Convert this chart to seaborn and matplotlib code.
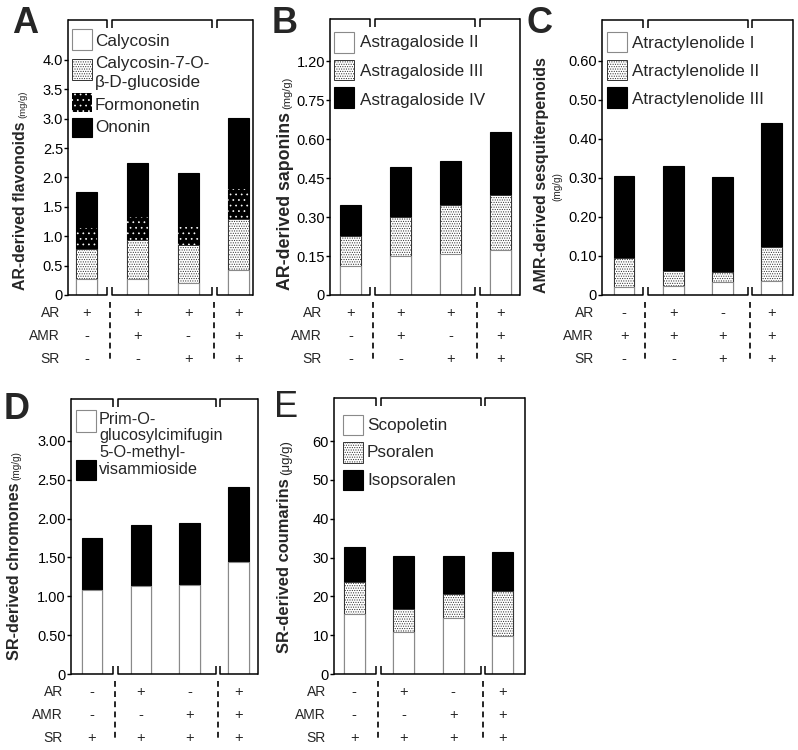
import matplotlib
matplotlib.use("Agg")
import matplotlib.pyplot as plt
import seaborn as sns
import pandas as pd
import numpy as np
from matplotlib.patches import Rectangle
from matplotlib.transforms import blended_transform_factory

# ---------------- data ----------------
conditions = ["c1", "c2", "c3", "c4"]
row_names = ["AR", "AMR", "SR"]

# Panel A : AR-derived flavonoids (mg/g)
a_names = ["Calycosin", "Calycosin-7-O-\nβ-D-glucoside", "Formononetin", "Ononin"]
a_calycosin = [0.27, 0.27, 0.21, 0.43]
a_c7g = [0.52, 0.665, 0.64, 0.86]
a_formononetin = [0.345, 0.395, 0.305, 0.52]
a_ononin = [0.625, 0.92, 0.915, 1.20]
a_ticks = [0, 0.5, 1.0, 1.5, 2.0, 2.5, 3.0, 3.5, 4.0]
a_ticklabels = ["0", "0.5", "1.0", "1.5", "2.0", "2.5", "3.0", "3.5", "4.0"]
a_signs = [["+", "+", "+", "+"], ["-", "+", "-", "+"], ["-", "-", "+", "+"]]

# Panel B : AR-derived saponins (mg/g)
b_names = ["Astragaloside II", "Astragaloside III", "Astragaloside IV"]
b_ast2 = [0.110, 0.150, 0.157, 0.174]
b_ast3 = [0.117, 0.150, 0.191, 0.212]
b_ast4 = [0.120, 0.192, 0.166, 0.240]
b_ticks = [0, 0.15, 0.30, 0.45, 0.60, 0.75, 0.90]
b_ticklabels = ["0", "0.15", "0.30", "0.45", "0.60", "0.75", "1.20"]
b_signs = [["+", "+", "+", "+"], ["-", "+", "-", "+"], ["-", "-", "+", "+"]]

# Panel C : AMR-derived sesquiterpenoids (mg/g)
c_names = ["Atractylenolide I", "Atractylenolide II", "Atractylenolide III"]
c_atr1 = [0.020, 0.023, 0.033, 0.036]
c_atr2 = [0.074, 0.039, 0.027, 0.088]
c_atr3 = [0.212, 0.269, 0.243, 0.316]
c_ticks = [0, 0.10, 0.20, 0.30, 0.40, 0.50, 0.60]
c_ticklabels = ["0", "0.10", "0.20", "0.30", "0.40", "0.50", "0.60"]
c_signs = [["-", "+", "-", "+"], ["+", "+", "+", "+"], ["-", "-", "+", "+"]]

# Panel D : SR-derived chromones (mg/g)
d_names = ["Prim-O-\nglucosylcimifugin", "5-O-methyl-\nvisammioside"]
d_prim = [1.08, 1.13, 1.14, 1.44]
d_methyl = [0.67, 0.79, 0.81, 0.97]
d_ticks = [0, 0.5, 1.0, 1.5, 2.0, 2.5, 3.0]
d_ticklabels = ["0", "0.50", "1.00", "1.50", "2.00", "2.50", "3.00"]
d_signs = [["-", "+", "-", "+"], ["-", "-", "+", "+"], ["+", "+", "+", "+"]]

# Panel E : SR-derived coumarins (ug/g)
e_names = ["Scopoletin", "Psoralen", "Isopsoralen"]
e_scopoletin = [15.4, 10.9, 14.4, 9.8]
e_psoralen = [8.2, 5.8, 6.1, 11.6]
e_isopsoralen = [9.0, 13.7, 9.9, 10.0]
e_ticks = [0, 10, 20, 30, 40, 50, 60]
e_ticklabels = ["0", "10", "20", "30", "40", "50", "60"]
e_signs = [["-", "+", "-", "+"], ["-", "-", "+", "+"], ["+", "+", "+", "+"]]

# ---------------- style ----------------
sns.set_style("ticks")
plt.rcParams["font.family"] = ["Liberation Sans", "DejaVu Sans"]
plt.rcParams["hatch.linewidth"] = 0.5
plt.rcParams["axes.linewidth"] = 1.1
plt.rcParams["axes.edgecolor"] = "black"

W, H = 798, 750
fig = plt.figure(figsize=(W / 100, H / 100), dpi=100)
fig.patch.set_facecolor("white")

STYLE = {
    "open": dict(fc="white", ec="#8a8a8a", lw=0.8, hatch=None),
    "fine": dict(fc="white", ec="#333333", lw=0.7, hatch="......."),
    "coarse": dict(fc="black", ec="white", lw=0.0, hatch="..."),
    "solid": dict(fc="black", ec="black", lw=0.8, hatch=None),
}


def fx(px):
    return px / W


def fy(py):
    return 1 - py / H


def draw_panel(cfg, layers, names, styles, ticks, ticklabels, signs):
    L, R, T, B = cfg["box"]
    axw, axh = R - L, B - T
    ax = fig.add_axes([fx(L), fy(B), axw / W, axh / H])
    cum = np.cumsum(np.array(layers, dtype=float), axis=0)
    for k in range(len(layers) - 1, -1, -1):
        st = STYLE[styles[k]]
        df = pd.DataFrame({"cond": conditions, "value": cum[k]})
        sns.barplot(data=df, x="cond", y="value", order=conditions, ax=ax,
                    width=cfg["bw"], color=st["fc"], saturation=1,
                    edgecolor=st["ec"], linewidth=st["lw"], hatch=st["hatch"],
                    errorbar=None)
    x0, x1 = cfg["xlim"]
    ax.set_xlim(x0, x1)
    ax.set_ylim(0, cfg["ytop"])
    ax.set_yticks(ticks)
    ax.set_yticklabels(ticklabels)
    ax.set_xticks([])
    ax.set_xlabel("")
    ax.set_ylabel("")
    ax.tick_params(axis="y", length=2.6, width=1.0, pad=1.0, labelsize=10.5,
                   colors="black", right=False)
    ax.spines["top"].set_visible(False)
    ax.spines["bottom"].set_visible(False)
    ax.spines["left"].set_linewidth(1.1)
    ax.spines["right"].set_linewidth(1.1)

    # broken frame (top and bottom)
    b1, b2 = cfg["breaks"]
    unit_px = axw / (x1 - x0)
    g = 2.3 / unit_px
    t = 8.0 / axh
    tr = ax.get_xaxis_transform()
    kw = dict(transform=tr, color="black", lw=1.1, clip_on=False,
              solid_joinstyle="round", solid_capstyle="butt")
    for yb, s in ((0.0, 1), (1.0, -1)):
        yt = yb + s * t
        ax.plot([x0, b1 - g, b1 - g], [yb, yb, yt], **kw)
        ax.plot([b1 + g, b1 + g, b2 - g, b2 - g], [yt, yb, yb, yt], **kw)
        ax.plot([b2 + g, b2 + g, x1], [yt, yb, yb], **kw)

    # legend (drawn by hand: patch + text lines)
    pl, pw = cfg["leg_x"]
    tx_ = cfg["leg_tx"]
    lfs = cfg.get("lfs", 12.3)
    bl_iter = iter(cfg["leg_base"])
    for k, (nm, s_) in enumerate(zip(names, styles)):
        st = STYLE[s_]
        ptop, ph = cfg["leg_patch"][k]
        fig.add_artist(Rectangle((fx(pl), fy(ptop + ph)), pw / W, ph / H,
                                 transform=fig.transFigure, facecolor=st["fc"],
                                 edgecolor=st["ec"] if s_ != "open" else "#8a8a8a",
                                 linewidth=st["lw"], hatch=st["hatch"]))
        for line in nm.split("\n"):
            fig.text(fx(tx_), fy(next(bl_iter)), line, fontsize=lfs,
                     ha="left", va="baseline")

    # condition table
    trans = blended_transform_factory(ax.transData, ax.transAxes)
    for r, lab in enumerate(row_names):
        dy = -cfg["rows"][r] / axh
        ax.text(-8.0 / axw, dy, lab, transform=ax.transAxes, ha="right", va="center",
                fontsize=10)
        for i, v in enumerate(signs[r]):
            ax.text(i, dy, v, transform=trans, ha="center", va="center", fontsize=10.5)
    for b in (b1, b2):
        ax.plot([b, b], [-7.0 / axh, -67.0 / axh], transform=tr, color="black", lw=1.2,
                ls=(0, (3.5, 2.6)), clip_on=False)

    # panel letter
    px, py = cfg["letter_pos"]
    fig.text(fx(px), fy(py), cfg["letter"], fontsize=26,
             fontweight=cfg.get("letter_weight", "bold"), va="top", ha="left")

    # y label (bold part + small unit)
    r_ = fig.canvas.get_renderer()
    bx, by = cfg["lab_pos"]
    t1 = fig.text(fx(bx), fy(by), cfg["label"], rotation=90, rotation_mode="anchor",
                  ha="left", va="baseline", fontsize=cfg["lab_fs"], fontweight="bold")
    if cfg.get("unit_pos") is None:
        bb = t1.get_window_extent(r_)
        fig.text(fx(bx), (bb.y1 + 3) / H, cfg["unit"], rotation=90, rotation_mode="anchor",
                 ha="left", va="baseline", fontsize=cfg["unit_fs"])
    else:
        ux, uy = cfg["unit_pos"]
        fig.text(fx(ux), fy(uy), cfg["unit"], rotation=90, rotation_mode="anchor",
                 ha="center", va="baseline", fontsize=cfg["unit_fs"])
    return ax


rows = [18, 41, 64]

draw_panel(dict(box=(68, 253, 20, 295), xlim=(-0.37, 3.28), breaks=(0.45, 2.52), ytop=4.68,
                bw=0.41, leg_x=(72, 20), leg_tx=95,
                leg_patch=[(29, 21), (59, 21), (93, 19), (118, 19)],
                leg_base=[46, 68, 86.5, 109.5, 132.5],
                rows=rows, letter="A", letter_pos=(12, 6),
                lab_pos=(25, 290), label="AR-derived flavonoids", lab_fs=11.4,
                unit="(mg/g)", unit_fs=6.8),
           [a_calycosin, a_c7g, a_formononetin, a_ononin], a_names,
           ["open", "fine", "coarse", "solid"], a_ticks, a_ticklabels, a_signs)

draw_panel(dict(box=(330, 520, 19, 295), xlim=(-0.42, 3.40), breaks=(0.44, 2.54), ytop=1.062,
                bw=0.42, leg_x=(334, 20), leg_tx=360,
                leg_patch=[(32, 21), (60, 20), (87, 21)],
                leg_base=[47.5, 76, 104.5],
                rows=rows, letter="B", letter_pos=(272, 6),
                lab_pos=(290, 290), label="AR-derived saponins", lab_fs=12.8,
                unit="(mg/g)", unit_fs=8),
           [b_ast2, b_ast3, b_ast4], b_names,
           ["open", "fine", "solid"], b_ticks, b_ticklabels, b_signs)

draw_panel(dict(box=(602, 793, 20, 295), xlim=(-0.45, 3.43), breaks=(0.43, 2.56), ytop=0.705,
                bw=0.42, leg_x=(607, 20), leg_tx=632,
                leg_patch=[(32, 20), (60, 20), (87, 21)],
                leg_base=[48, 76, 104],
                rows=rows, letter="C", letter_pos=(527, 6),
                lab_pos=(546, 293), label="AMR-derived sesquiterpenoids", lab_fs=11.5,
                unit="(mg/g)", unit_fs=7.2, unit_pos=(560, 187)),
           [c_atr1, c_atr2, c_atr3], c_names,
           ["open", "fine", "solid"], c_ticks, c_ticklabels, c_signs)

draw_panel(dict(box=(71, 258, 399, 674), xlim=(-0.43, 3.40), breaks=(0.48, 2.58), ytop=3.54,
                bw=0.42, leg_x=(76, 20), leg_tx=99, lfs=11.7,
                leg_patch=[(410, 22), (460, 20)],
                leg_base=[423.5, 440, 457.5, 473.5],
                rows=rows, letter="D",
                letter_pos=(4, 392), lab_pos=(19, 660), label="SR-derived chromones",
                lab_fs=11.7, unit="(mg/g)", unit_fs=7.2),
           [d_prim, d_methyl], d_names,
           ["open", "solid"], d_ticks, d_ticklabels, d_signs)

draw_panel(dict(box=(334, 525, 398, 674), xlim=(-0.41, 3.45), breaks=(0.485, 2.60), ytop=71.1,
                bw=0.42, leg_x=(343, 20), leg_tx=367,
                leg_patch=[(415, 20), (442, 21), (470, 20)],
                leg_base=[430, 457, 484.5],
                rows=rows, letter="E", letter_weight="normal",
                letter_pos=(274, 390), lab_pos=(289, 653), label="SR-derived coumarins",
                lab_fs=11.9, unit="(μg/g)", unit_fs=9.5),
           [e_scopoletin, e_psoralen, e_isopsoralen], e_names,
           ["open", "fine", "solid"], e_ticks, e_ticklabels, e_signs)

fig.savefig("out.png", dpi=100, facecolor="white")
